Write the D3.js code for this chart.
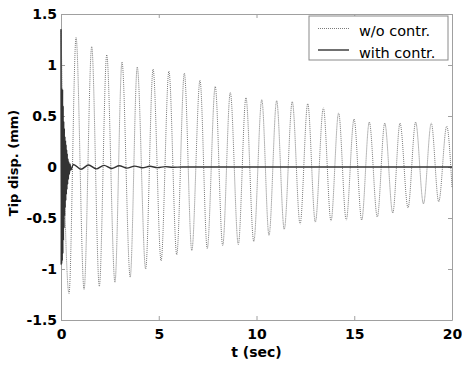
<!DOCTYPE html>
<html>
<head>
<meta charset="utf-8">
<script src="https://cdn.jsdelivr.net/npm/d3@7"></script>
<style>
  body { margin: 0; background: #fff; }
  svg { display: block; }
</style>
</head>
<body>
<div id="chart"></div>
<script>
// w/o control: peaks and troughs (t in sec, disp in mm)
const woTime = [0.00, 0.41, 0.77, 1.18, 1.57, 1.96, 2.34, 2.76, 3.12, 3.54, 3.90, 4.33, 4.71, 5.12,
  5.52, 5.92, 6.31, 6.69, 7.11, 7.48, 7.89, 8.27, 8.66, 9.07, 9.46, 9.86, 10.27, 10.64, 11.03,
  11.42, 11.83, 12.23, 12.62, 13.01, 13.42, 13.81, 14.20, 14.59, 14.99, 15.38, 15.77, 16.18,
  16.56, 16.97, 17.34, 17.75, 18.14, 18.54, 18.94, 19.32, 19.73, 20.00];
const woDisp = [1.35, -1.24, 1.27, -1.20, 1.18, -1.17, 1.10, -1.13, 1.03, -1.08, 0.98, -1.00, 0.96, -0.92,
  0.94, -0.86, 0.92, -0.82, 0.85, -0.80, 0.79, -0.77, 0.73, -0.76, 0.68, -0.73, 0.66, -0.67, 0.65,
  -0.61, 0.64, -0.56, 0.62, -0.54, 0.58, -0.53, 0.53, -0.52, 0.47, -0.52, 0.44, -0.49,
  0.43, -0.45, 0.43, -0.40, 0.44, -0.36, 0.43, -0.34, 0.40, -0.20];

// with control: fast burst near t=0, then small decaying wiggle
const withTime = [0.000, 0.010, 0.020, 0.035, 0.050, 0.065, 0.080, 0.095, 0.110, 0.125, 0.140,
  0.155, 0.170, 0.185, 0.200, 0.215, 0.230, 0.245, 0.260, 0.275, 0.290, 0.305, 0.320, 0.340,
  0.360, 0.380, 0.400, 0.430, 0.460, 0.500, 0.63, 1.02, 1.41, 1.80, 2.20, 2.59, 2.98, 3.37,
  3.77, 4.16, 4.55, 4.94, 5.34, 5.73, 6.20, 20.00];
const withDisp = [1.35, -0.96, 0.77, -0.95, 0.77, -0.92, 0.76, -0.85, 0.60, -0.72, 0.45,
  -0.60, 0.38, -0.48, 0.30, -0.40, 0.26, -0.33, 0.22, -0.27, 0.17, -0.22, 0.13, -0.17,
  0.08, -0.12, 0.05, -0.07, 0.03, -0.03, 0.025, -0.022, 0.02, -0.018, 0.016, -0.014, 0.012, -0.011,
  0.009, -0.008, 0.007, -0.006, 0.004, -0.003, 0, 0];

const xTicks = [0, 5, 10, 15, 20];
const yTicks = [-1.5, -1, -0.5, 0, 0.5, 1, 1.5];
const legendLabels = ['w/o contr.', 'with contr.'];

const width = 462, height = 367;
const margin = { top: 14, right: 10, bottom: 47, left: 61 };
const plotW = width - margin.left - margin.right;
const plotH = height - margin.top - margin.bottom;
const axisColor = '#a0a0a0';
const tickFont = 'DejaVu Sans, sans-serif';
const dotColor = '#7a7a7a';
const dotDash = '1,1';

const svg = d3.select('#chart').append('svg')
    .attr('width', width)
    .attr('height', height);

const g = svg.append('g')
    .attr('transform', `translate(${margin.left},${margin.top})`);

const x = d3.scaleLinear().domain([0, 20]).range([0, plotW]);
const y = d3.scaleLinear().domain([-1.5, 1.5]).range([plotH, 0]);

const fmt = d => String(d);

function styleAxis(sel, showText) {
    sel.select('.domain').attr('stroke', axisColor);
    sel.selectAll('.tick line').attr('stroke', axisColor);
    sel.selectAll('.tick text')
        .attr('fill', '#000')
        .style('font-family', tickFont)
        .style('font-weight', 'bold')
        .style('font-size', '14px')
        .style('display', showText ? null : 'none');
}

g.append('g')
    .attr('transform', `translate(0,${plotH})`)
    .call(d3.axisBottom(x).tickValues(xTicks).tickFormat(fmt).tickSizeInner(-4).tickSizeOuter(0).tickPadding(9))
    .call(s => styleAxis(s, true));

g.append('g')
    .call(d3.axisTop(x).tickValues(xTicks).tickSizeInner(-4).tickSizeOuter(0))
    .call(s => styleAxis(s, false));

g.append('g')
    .call(d3.axisLeft(y).tickValues(yTicks).tickFormat(fmt).tickSizeInner(-4).tickSizeOuter(0).tickPadding(4))
    .call(s => styleAxis(s, true));

g.append('g')
    .attr('transform', `translate(${plotW},0)`)
    .call(d3.axisRight(y).tickValues(yTicks).tickSizeInner(-4).tickSizeOuter(0))
    .call(s => styleAxis(s, false));

const line = d3.line()
    .x(d => x(d[0]))
    .y(d => y(d[1]))
    .curve(d3.curveMonotoneX);

// uncontrolled response (dotted)
g.append('path')
    .datum(d3.zip(woTime, woDisp))
    .attr('fill', 'none')
    .attr('stroke', dotColor)
    .attr('stroke-width', 1)
    .attr('stroke-dasharray', dotDash)
    .attr('d', line);

// controlled response (solid)
g.append('path')
    .datum(d3.zip(withTime, withDisp))
    .attr('fill', 'none')
    .attr('stroke', '#333')
    .attr('stroke-width', 1.4)
    .attr('d', line);

// axis titles
svg.append('text')
    .attr('x', margin.left + plotW / 2)
    .attr('y', 357)
    .attr('text-anchor', 'middle')
    .style('font-family', tickFont)
    .style('font-weight', 'bold')
    .style('font-size', '14px')
    .text('t (sec)');

svg.append('text')
    .attr('transform', 'translate(18,163) rotate(-90)')
    .attr('text-anchor', 'middle')
    .style('font-family', tickFont)
    .style('font-weight', 'bold')
    .style('font-size', '13px')
    .text('Tip disp. (mm)');

// legend
const legend = svg.append('g').attr('transform', 'translate(309,16)');
legend.append('rect')
    .attr('width', 139).attr('height', 44)
    .attr('fill', '#fff')
    .attr('stroke', '#8a8a8a')
    .attr('stroke-width', 1);

const legendStyles = [
    { stroke: dotColor, width: 1, dash: dotDash },
    { stroke: '#333', width: 1.4, dash: null }
];

legendLabels.forEach((label, i) => {
    const row = legend.append('g').attr('transform', `translate(0,${12.5 + i * 21.5})`);
    row.append('line')
        .attr('x1', 9).attr('x2', 40)
        .attr('stroke', legendStyles[i].stroke)
        .attr('stroke-width', legendStyles[i].width)
        .attr('stroke-dasharray', legendStyles[i].dash);
    row.append('text')
        .attr('x', 50).attr('y', 7.5)
        .style('font-family', tickFont)
        .style('font-size', '14.5px')
        .text(label);
});
</script>
</body>
</html>
